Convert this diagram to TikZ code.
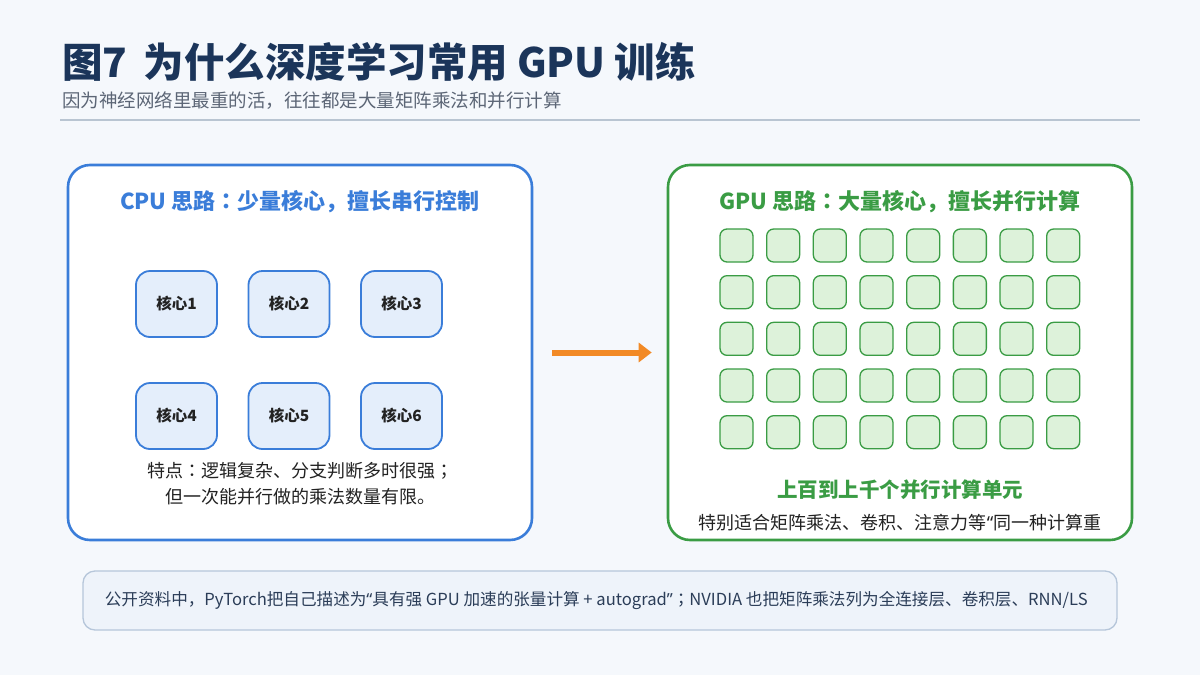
\documentclass[tikz,border=0pt]{standalone}
\usepackage{fontspec}
\setmainfont{Noto Sans CJK SC}
\newfontfamily\tcfont{Noto Sans CJK TC}
\newfontfamily\quotefont{Noto Sans}
\newcommand{\cnColon}{{\tcfont ：}}
\newcommand{\cnSemi}{{\tcfont ；}}
\newcommand{\oquote}{{\quotefont “}}
\newcommand{\cquote}{{\quotefont ”}}
\usetikzlibrary{arrows.meta, positioning}
\definecolor{pagebg}{HTML}{F5F8FC}
\definecolor{titlenavy}{HTML}{1B355A}
\definecolor{subgrey}{HTML}{5C6676}
\definecolor{rulegrey}{HTML}{B9C5D2}
\definecolor{cpublue}{HTML}{3A7DD9}
\definecolor{cpufill}{HTML}{E4EEFB}
\definecolor{gpugreen}{HTML}{3A9C44}
\definecolor{gpufill}{HTML}{DDF2DA}
\definecolor{arroworange}{HTML}{F28A26}
\definecolor{notefill}{HTML}{EEF3FA}
\definecolor{noteborder}{HTML}{B6C6DA}
\definecolor{notetext}{HTML}{2B3D58}
\definecolor{bodytext}{HTML}{222222}

\begin{document}
\begin{tikzpicture}[
  x=1pt, y=-1pt,
  panel/.style={rectangle, rounded corners=22pt, line width=2.6pt, fill=white, minimum width=464pt, minimum height=375pt},
  cpupanel/.style={panel, draw=cpublue},
  gpupanel/.style={panel, draw=gpugreen},
  core/.style={rectangle, rounded corners=14pt, draw=cpublue, fill=cpufill, line width=1.8pt, minimum width=81pt, minimum height=66pt, font=\fontsize{15.5}{18}\selectfont\bfseries, text=bodytext},
  unit/.style={rectangle, rounded corners=7pt, draw=gpugreen, fill=gpufill, line width=1.3pt, minimum width=33pt, minimum height=33pt},
  heading/.style={font=\fontsize{22}{26}\selectfont\bfseries},
  body/.style={font=\fontsize{18}{26}\selectfont, text=bodytext, align=center},
  arr/.style={-{Triangle[length=13pt, width=19pt]}, line width=6pt, arroworange},
]
  % Page
  \useasboundingbox[fill=pagebg] (0,0) rectangle (1200,675);

  % Header
  \node[anchor=base west, inner sep=0, font=\fontsize{40.5}{44}\selectfont\bfseries, text=titlenavy] (title) at (62,77) {图7\hspace{0.4em}为什么深度学习常用 GPU 训练};
  \node[anchor=base west, inner sep=0, font=\fontsize{18.5}{22}\selectfont, text=subgrey] (subtitle) at (62,107) {因为神经网络里最重的活，往往都是大量矩阵乘法和并行计算};
  \coordinate (ruleL) at (60,120);
  \coordinate (ruleR) at (1140,120);
  \draw[rulegrey, line width=2pt] (ruleL) -- (ruleR);

  % Panels
  \node[cpupanel] (cpu) at (300,352.5) {};
  \node[gpupanel] (gpu) at (900,352.5) {};
  \node[heading, text=cpublue] (cpuhead) at (300,202) {CPU 思路\cnColon 少量核心，擅长串行控制};
  \node[heading, text=gpugreen] (gpuhead) at (900,202) {GPU 思路\cnColon 大量核心，擅长并行计算};

  % CPU cores
  \foreach \n/\x/\y in {1/176.5/304, 2/289/304, 3/401.5/304, 4/176.5/416, 5/289/416, 6/401.5/416}
    \node[core] (core\n) at (\x,\y) {核心\n};
  \node[body] (cpunote) at (300,484) {特点\cnColon 逻辑复杂、分支判断多时很强\cnSemi\\但一次能并行做的乘法数量有限。};

  % GPU units
  \foreach \r in {0,...,4}
    \foreach \c in {0,...,7}
      \node[unit] (unit-\r-\c) at ({736.5+46.67*\c},{245.5+46.67*\r}) {};
  \node[font=\fontsize{20.5}{24}\selectfont\bfseries, text=gpugreen] (gpulabel) at (900,490) {上百到上千个并行计算单元};
  \node[body] (gpunote) at (900,523) {特别适合矩阵乘法、卷积、注意力等\oquote 同一种计算重};

  % Arrow
  \draw[arr, shorten <=19pt, shorten >=15pt] (cpu) -- (gpu);

  % Footer
  \node[rectangle, rounded corners=12pt, draw=noteborder, fill=notefill, line width=1.3pt, minimum width=1034pt, minimum height=59pt] (note) at (600,600.5) {};
  \node[anchor=west, font=\fontsize{16.6}{20}\selectfont, text=notetext] (notetext) at ([xshift=19pt]note.west) {公开资料中，PyTorch把自己描述为\oquote 具有强 GPU 加速的张量计算 + autograd\cquote\cnSemi NVIDIA 也把矩阵乘法列为全连接层、卷积层、RNN/LS};
\end{tikzpicture}
\end{document}
